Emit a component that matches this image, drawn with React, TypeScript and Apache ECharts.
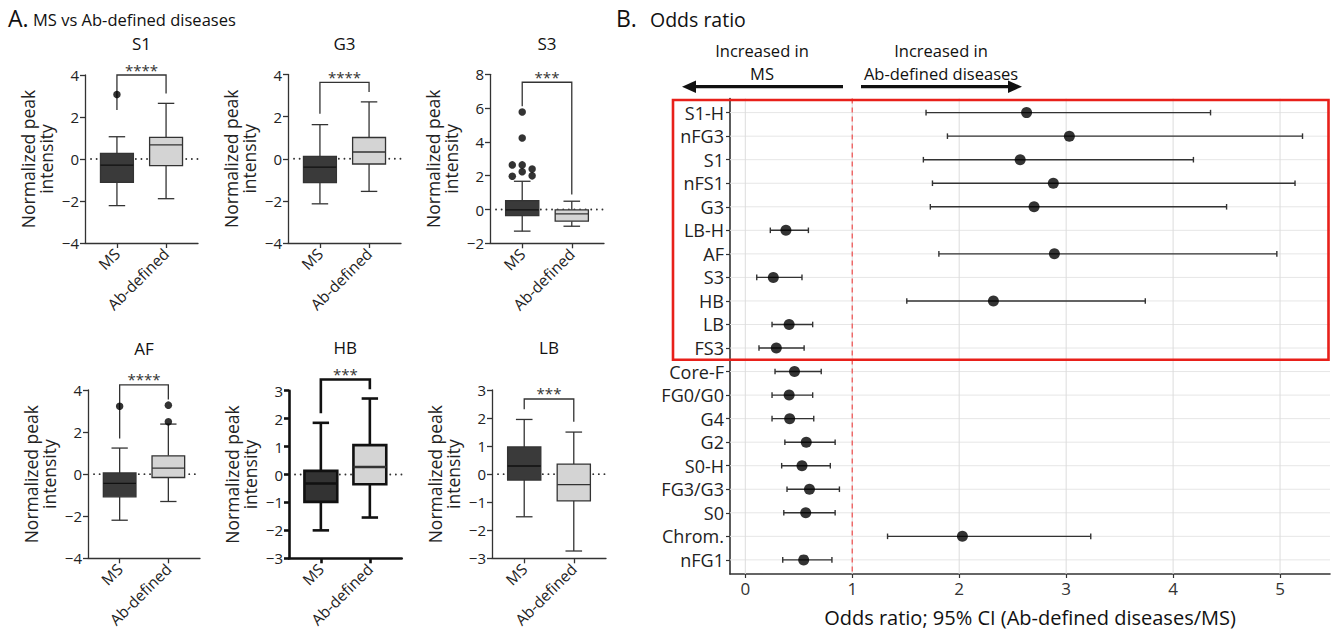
import React, { useEffect, useRef } from "react";
import * as echarts from "echarts";

// ---------- Panel A data ----------
const groups = ["MS", "Ab-defined"];
const panelNames = ["S1", "G3", "S3", "AF", "HB", "LB"];
// [min, q1, median, q3, max]
const msStats = [
  [-2.22, -1.11, -0.29, 0.27, 1.06],
  [-2.14, -1.13, -0.4, 0.11, 1.62],
  [-1.28, -0.36, -0.02, 0.53, 1.67],
  [-2.19, -1.08, -0.44, 0.06, 1.24],
  [-2.0, -0.98, -0.32, 0.13, 1.85],
  [-1.52, -0.21, 0.29, 0.97, 1.95],
];
const abStats = [
  [-1.89, -0.32, 0.67, 1.03, 2.65],
  [-1.55, -0.25, 0.32, 1.01, 2.7],
  [-0.99, -0.69, -0.26, -0.02, 0.49],
  [-1.3, -0.16, 0.29, 0.87, 2.38],
  [-1.54, -0.35, 0.27, 1.05, 2.72],
  [-2.74, -0.95, -0.37, 0.36, 1.5],
];
const msOutliers = [[3.07], [], [5.77, 4.23, 2.64, 2.64, 2.4, 1.97, 2.23, 1.99], [3.23], [], []];
const msOutlierSpread = [[0], [], [0, 0, -0.2, 0, 0.2, -0.2, 0, 0.2], [0], [], []];
const abOutliers = [[], [], [], [2.49, 3.28], [], []];
const significance = ["****", "****", "***", "****", "***", "***"];
const bracketTop = [4.0, 3.63, 7.53, 4.24, 3.4, 2.68];
const bracketLeftEnd = [2.33, 2.14, 6.11, 1.7, 2.19, 2.31];
const bracketRightEnd = [3.12, 3.17, 0.89, 3.55, 3.05, 1.87];
const yMin = [-4, -4, -2, -4, -3, -3];
const yMax = [4, 4, 8, 4, 3, 3];
const yInterval = [2, 2, 2, 2, 1, 1];

// ---------- Panel B data ----------
const orLabels = ["S1-H", "nFG3", "S1", "nFS1", "G3", "LB-H", "AF", "S3", "HB", "LB", "FS3", "Core-F", "FG0/G0", "G4", "G2", "S0-H", "FG3/G3", "S0", "Chrom.", "nFG1"];
const orEstimate = [2.63, 3.03, 2.57, 2.88, 2.7, 0.38, 2.89, 0.262, 2.32, 0.41, 0.29, 0.46, 0.41, 0.415, 0.57, 0.53, 0.6, 0.565, 2.03, 0.546];
const orLower = [1.69, 1.89, 1.665, 1.75, 1.73, 0.234, 1.81, 0.107, 1.51, 0.25, 0.128, 0.278, 0.25, 0.25, 0.37, 0.34, 0.39, 0.36, 1.33, 0.35];
const orUpper = [4.35, 5.21, 4.19, 5.14, 4.5, 0.59, 4.97, 0.53, 3.74, 0.63, 0.55, 0.71, 0.63, 0.64, 0.84, 0.795, 0.88, 0.84, 3.23, 0.81];
const orTicks = [0, 1, 2, 3, 4, 5];
const referenceOR = 1;
const highlightedRowCount = 11;

// ---------- layout ----------
const FONT = "Open Sans";
const panelGrids = [
  { left: 85, top: 75, width: 113, height: 168 },
  { left: 288, top: 74.5, width: 113, height: 168.5 },
  { left: 490, top: 74.3, width: 114, height: 169 },
  { left: 88, top: 390, width: 112, height: 168.3 },
  { left: 289, top: 390.7, width: 112.7, height: 167.6 },
  { left: 492, top: 390, width: 114, height: 168.3 },
];
const titleY = [43, 43, 43, 348, 347, 347];
const bGrid = { left: 730, top: 98.5, width: 600, height: 479.5 };

const minusFmt = (v: number) => String(v).replace("-", "\u2212");

function buildOption() {
  const grid: any[] = [];
  const xAxis: any[] = [];
  const yAxis: any[] = [];
  const series: any[] = [];
  const graphic: any[] = [];

  panelNames.forEach((name, i) => {
    const g = panelGrids[i];
    const thick = name === "HB";
    const lw = thick ? 2.6 : 1.3;
    const axisColor = thick ? "#111" : "#333";
    grid.push({ left: g.left, top: g.top, width: g.width, height: g.height, containLabel: false });
    xAxis.push({
      gridIndex: i,
      type: "value",
      min: -0.65,
      max: 1.65,
      splitLine: { show: false },
      axisLine: { show: true, onZero: false, lineStyle: { color: axisColor, width: lw } },
      axisTick: { show: true, customValues: [0, 1], length: 5, lineStyle: { color: axisColor, width: lw } },
      axisLabel: {
        customValues: [0, 1],
        formatter: (v: number) => groups[Math.round(v)] ?? "",
        rotate: 45,
        margin: 8,
        fontFamily: FONT,
        fontSize: 15.5,
        color: "#222",
      },
    });
    yAxis.push({
      gridIndex: i,
      type: "value",
      min: yMin[i],
      max: yMax[i],
      interval: yInterval[i],
      splitLine: { show: false },
      axisLine: { show: true, onZero: false, lineStyle: { color: axisColor, width: lw } },
      axisTick: { show: true, length: 5, lineStyle: { color: axisColor, width: lw } },
      axisLabel: { margin: 6, fontFamily: FONT, fontSize: 15, color: "#222", formatter: minusFmt },
      name: "Normalized peak\nintensity",
      nameLocation: "middle",
      nameRotate: 90,
      nameGap: 30,
      nameTextStyle: { fontFamily: FONT, fontSize: 17.5, color: "#222", lineHeight: 18 },
    });

    // dotted zero line
    series.push({
      type: "custom",
      xAxisIndex: i,
      yAxisIndex: i,
      silent: true,
      clip: false,
      data: [[0, 0]],
      renderItem: (params: any, api: any) => {
        const cs = params.coordSys;
        const y = api.coord([0, api.value(1)])[1];
        return {
          type: "line",
          shape: { x1: cs.x + 6, y1: y, x2: cs.x + cs.width, y2: y },
          style: { stroke: "#333", lineWidth: 1.8, lineDash: [0.1, 5.5], lineCap: "round" },
        };
      },
    });

    // boxes
    series.push({
      type: "custom",
      xAxisIndex: i,
      yAxisIndex: i,
      silent: true,
      clip: false,
      encode: { x: 0, y: [1, 2, 3, 4, 5] },
      data: [[0, ...msStats[i]], [1, ...abStats[i]]],
      renderItem: (params: any, api: any) => {
        const x = api.value(0);
        const vals = [1, 2, 3, 4, 5].map((d) => api.coord([x, api.value(d)])[1]);
        const [yMn, yQ1, yMd, yQ3, yMx] = vals;
        const cx = api.coord([x, 0])[0];
        const bw = api.size([1, 0])[0] * 0.67;
        const cw = bw * 0.5;
        const dark = x === 0;
        const stroke = thick ? "#111" : "#333";
        const fill = dark ? (thick ? "#333" : "#3a3a3a") : "#d4d4d4";
        const st = { stroke, lineWidth: lw };
        return {
          type: "group",
          children: [
            { type: "line", shape: { x1: cx, y1: yQ1, x2: cx, y2: yMn }, style: st },
            { type: "line", shape: { x1: cx - cw / 2, y1: yMn, x2: cx + cw / 2, y2: yMn }, style: st },
            { type: "line", shape: { x1: cx, y1: yQ3, x2: cx, y2: yMx }, style: st },
            { type: "line", shape: { x1: cx - cw / 2, y1: yMx, x2: cx + cw / 2, y2: yMx }, style: st },
            { type: "rect", shape: { x: cx - bw / 2, y: yQ3, width: bw, height: yQ1 - yQ3 }, style: { fill, stroke, lineWidth: lw } },
            { type: "line", shape: { x1: cx - bw / 2, y1: yMd, x2: cx + bw / 2, y2: yMd }, style: { stroke: dark ? "#111" : "#333", lineWidth: lw } },
          ],
        };
      },
    });

    // outliers
    const outl: number[][] = [];
    msOutliers[i].forEach((v, k) => outl.push([0 + msOutlierSpread[i][k], v]));
    abOutliers[i].forEach((v) => outl.push([1, v]));
    if (outl.length) {
      series.push({
        type: "scatter",
        xAxisIndex: i,
        yAxisIndex: i,
        silent: true,
        symbol: "circle",
        symbolSize: 7.5,
        itemStyle: { color: "#000" },
        data: outl,
      });
    }

    // significance bracket
    series.push({
      type: "custom",
      xAxisIndex: i,
      yAxisIndex: i,
      silent: true,
      clip: false,
      encode: { x: 0, y: [1, 2, 3] },
      data: [[0, bracketTop[i], bracketLeftEnd[i], bracketRightEnd[i]]],
      renderItem: (params: any, api: any) => {
        const top = api.value(1);
        const p0 = api.coord([0, api.value(2)]);
        const p1 = api.coord([0, top]);
        const p2 = api.coord([1, top]);
        const p3 = api.coord([1, api.value(3)]);
        return {
          type: "group",
          children: [
            { type: "polyline", shape: { points: [p0, p1, p2, p3] }, style: { stroke: thick ? "#111" : "#333", lineWidth: lw, fill: "none" } },
            {
              type: "text",
              x: (p1[0] + p2[0]) / 2,
              y: p1[1] + 2,
              style: { text: significance[i], fontFamily: FONT, fontSize: 15, fill: "#333", align: "center", verticalAlign: "bottom" },
            },
          ],
        };
      },
    });

    graphic.push({
      type: "text",
      x: g.left + g.width / 2,
      y: titleY[i],
      style: { text: name, fontFamily: FONT, fontSize: 17, fill: "#111", align: "center", verticalAlign: "middle" },
    });
  });

  // ---------- Panel B ----------
  const bi = panelNames.length;
  grid.push({ left: bGrid.left, top: bGrid.top, width: bGrid.width, height: bGrid.height });
  xAxis.push({
    gridIndex: bi,
    type: "value",
    min: -0.143,
    max: 5.467,
    splitLine: { show: false },
    axisLine: { show: true, onZero: false, lineStyle: { color: "#333", width: 1.6 } },
    axisTick: { show: true, customValues: orTicks, length: 4, lineStyle: { color: "#333", width: 1.2 } },
    axisLabel: { customValues: orTicks, margin: 6, fontFamily: FONT, fontSize: 17, color: "#333" },
    name: "Odds ratio; 95% CI (Ab-defined diseases/MS)",
    nameLocation: "middle",
    nameGap: 33,
    nameTextStyle: { fontFamily: FONT, fontSize: 20, color: "#111" },
  });
  yAxis.push({
    gridIndex: bi,
    type: "value",
    inverse: true,
    min: -0.6,
    max: orLabels.length - 0.4,
    splitLine: { show: false },
    axisLine: { show: true, onZero: false, lineStyle: { color: "#333", width: 1.6 } },
    axisTick: { show: true, customValues: orLabels.map((_, k) => k), length: 4, lineStyle: { color: "#333", width: 1.2 } },
    axisLabel: {
      customValues: orLabels.map((_, k) => k),
      formatter: (v: number) => orLabels[Math.round(v)] ?? "",
      margin: 6,
      fontFamily: FONT,
      fontSize: 18,
      color: "#222",
    },
  });

  // horizontal gridlines
  series.push({
    type: "custom",
    xAxisIndex: bi,
    yAxisIndex: bi,
    silent: true,
    clip: false,
    data: orLabels.map((_, k) => [0, k]),
    renderItem: (params: any, api: any) => {
      const cs = params.coordSys;
      const y = api.coord([0, api.value(1)])[1];
      return { type: "line", shape: { x1: cs.x, y1: y, x2: cs.x + cs.width, y2: y }, style: { stroke: "#e6e6e6", lineWidth: 1 } };
    },
  });
  // vertical gridlines
  series.push({
    type: "custom",
    xAxisIndex: bi,
    yAxisIndex: bi,
    silent: true,
    clip: false,
    data: orTicks.map((t) => [t, 0]),
    renderItem: (params: any, api: any) => {
      const cs = params.coordSys;
      const x = api.coord([api.value(0), 0])[0];
      return { type: "line", shape: { x1: x, y1: cs.y, x2: x, y2: cs.y + cs.height }, style: { stroke: "#dcdcdc", lineWidth: 1 } };
    },
  });
  // reference line OR = 1
  series.push({
    type: "custom",
    xAxisIndex: bi,
    yAxisIndex: bi,
    silent: true,
    clip: false,
    data: [[referenceOR, 0]],
    renderItem: (params: any, api: any) => {
      const cs = params.coordSys;
      const x = api.coord([api.value(0), 0])[0];
      return { type: "line", shape: { x1: x, y1: cs.y, x2: x, y2: cs.y + cs.height }, style: { stroke: "#ef5a5a", lineWidth: 1.3, lineDash: [5, 4] } };
    },
  });
  // error bars
  series.push({
    type: "custom",
    xAxisIndex: bi,
    yAxisIndex: bi,
    silent: true,
    clip: false,
    encode: { x: [0, 1], y: 2 },
    data: orLabels.map((_, k) => [orLower[k], orUpper[k], k]),
    renderItem: (params: any, api: any) => {
      const a = api.coord([api.value(0), api.value(2)]);
      const b = api.coord([api.value(1), api.value(2)]);
      const st = { stroke: "#333", lineWidth: 1.4 };
      return {
        type: "group",
        children: [
          { type: "line", shape: { x1: a[0], y1: a[1], x2: b[0], y2: b[1] }, style: st },
          { type: "line", shape: { x1: a[0], y1: a[1] - 2.8, x2: a[0], y2: a[1] + 2.8 }, style: st },
          { type: "line", shape: { x1: b[0], y1: b[1] - 2.8, x2: b[0], y2: b[1] + 2.8 }, style: st },
        ],
      };
    },
  });
  // point estimates
  series.push({
    type: "scatter",
    xAxisIndex: bi,
    yAxisIndex: bi,
    silent: true,
    symbol: "circle",
    symbolSize: 11,
    itemStyle: { color: "#000" },
    data: orEstimate.map((v, k) => [v, k]),
  });
  // highlight box
  series.push({
    type: "custom",
    xAxisIndex: bi,
    yAxisIndex: bi,
    silent: true,
    clip: false,
    data: [[0, highlightedRowCount - 0.5]],
    renderItem: (params: any, api: any) => {
      const cs = params.coordSys;
      const yb = api.coord([0, api.value(1)])[1];
      const x0 = cs.x - 57;
      const y0 = cs.y + 1.5;
      return {
        type: "rect",
        shape: { x: x0, y: y0, width: cs.x + cs.width - 1.5 - x0, height: yb - y0 },
        style: { fill: "none", stroke: "#e8201a", lineWidth: 2.6 },
        z2: 100,
      };
    },
  });

  // header texts
  const hdr = (x: number, y: number, text: string, size: number, align = "left", lh?: number) => ({
    type: "text",
    x,
    y,
    style: { text, fontFamily: FONT, fontSize: size, lineHeight: lh ?? Math.round(size * 1.2), fill: "#111", align, verticalAlign: "middle" },
  });
  graphic.push(
    hdr(8, 18, "A.", 23),
    hdr(33, 19, "MS vs Ab-defined diseases", 16.5),
    hdr(616, 18, "B.", 23),
    hdr(650, 19, "Odds ratio", 19.5),
    hdr(762, 50, "Increased in", 16.5, "center", 17),
    hdr(762, 73, "MS", 16.5, "center", 17),
    hdr(941, 50, "Increased in", 16.5, "center", 17),
    hdr(941, 73, "Ab-defined diseases", 16.5, "center", 17),
    { type: "line", shape: { x1: 843, y1: 86.7, x2: 692, y2: 86.7 }, style: { stroke: "#111", lineWidth: 3.2 } },
    { type: "polygon", shape: { points: [[682, 86.7], [696, 80.5], [696, 92.9]] }, style: { fill: "#111" } },
    { type: "line", shape: { x1: 861, y1: 86.7, x2: 1012, y2: 86.7 }, style: { stroke: "#111", lineWidth: 3.2 } },
    { type: "polygon", shape: { points: [[1022, 86.7], [1008, 80.5], [1008, 92.9]] }, style: { fill: "#111" } }
  );

  return {
    animation: false,
    backgroundColor: "#ffffff",
    textStyle: { fontFamily: FONT },
    grid,
    xAxis,
    yAxis,
    series,
    graphic,
  };
}

export default function App() {
  const ref = useRef<HTMLDivElement>(null);
  useEffect(() => {
    document.body.style.margin = "0";
    if (!ref.current) return;
    const chart = echarts.init(ref.current, null, { renderer: "svg" });
    chart.setOption(buildOption() as any);
    return () => chart.dispose();
  }, []);
  return <div ref={ref} style={{ width: 1332, height: 632, overflow: "hidden" }} />;
}
